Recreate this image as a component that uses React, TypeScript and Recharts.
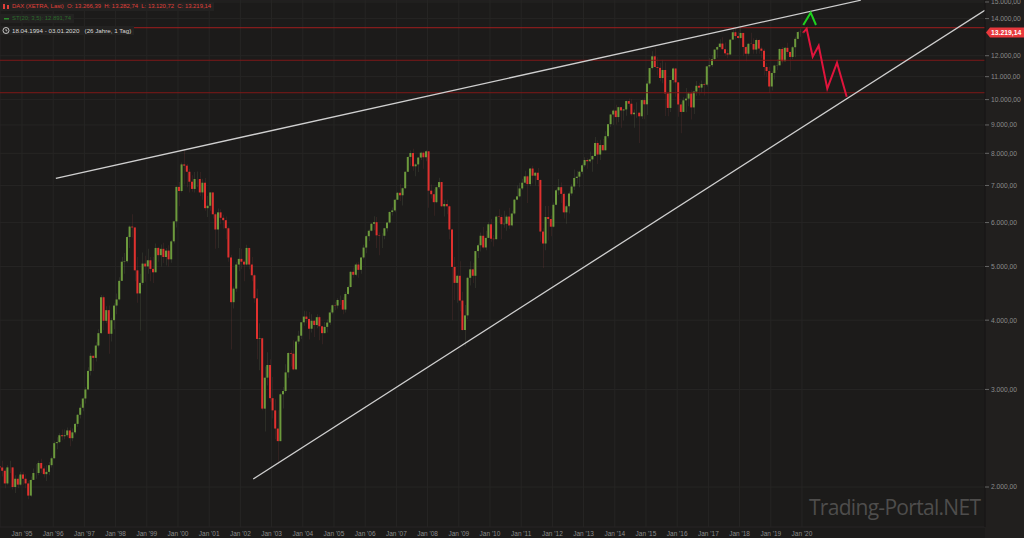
import React from 'react';
import {
  ComposedChart, Bar, Line, Cell, XAxis, YAxis, CartesianGrid, ReferenceLine,
} from 'recharts';

// monthly candles, DAX (XETRA) April 1994 .. 3 Jan 2020
const firstYear = 1994;
const firstMonth = 3; // April
const firstOpen = 2180;

const monthCloses = [
  2170, 2140, 2030, 2170, 2170, 2000, 2070, 2020, 2107,
  2070, 2030, 1930, 2060, 2120, 2120, 2210, 2160, 2110, 2130, 2190, 2254,
  2400, 2410, 2480, 2470, 2480, 2530, 2450, 2510, 2600, 2700, 2780, 2889,
  3000, 3240, 3450, 3420, 3600, 3790, 4400, 3990, 4170, 3780, 4000, 4250,
  4360, 4710, 5100, 5110, 5650, 5900, 5880, 4920, 4470, 4670, 5060, 5000,
  5130, 4950, 4880, 5400, 5240, 5380, 5200, 5340, 5150, 5550, 6030, 6958,
  6840, 7640, 7600, 7410, 7110, 6900, 7190, 7190, 6800, 7080, 6370, 6434,
  6800, 6210, 5830, 6260, 6120, 6060, 5860, 5190, 4310, 4560, 5040, 5160,
  5100, 5040, 5400, 5040, 4820, 4380, 3700, 3710, 2770, 3150, 3320, 2893,
  2750, 2550, 2420, 2940, 2980, 3220, 3490, 3480, 3260, 3660, 3750, 3965,
  4060, 4020, 3860, 3990, 3920, 4050, 3900, 3790, 3890, 3960, 4130, 4256,
  4250, 4350, 4350, 4180, 4460, 4590, 4890, 4830, 5040, 4930, 5190, 5408,
  5670, 5800, 5970, 6010, 5690, 5680, 5680, 5860, 6000, 6270, 6310, 6597,
  6790, 6720, 6920, 7410, 7880, 8010, 7580, 7640, 7860, 8020, 7870, 8067,
  6850, 6750, 6530, 6950, 7100, 6420, 6480, 6420, 5830, 4990, 4670, 4810,
  4340, 3840, 4080, 4770, 4940, 4810, 5330, 5460, 5680, 5410, 5630, 5957,
  5610, 5600, 6150, 6140, 5960, 5970, 6150, 5930, 6230, 6600, 6690, 6914,
  7080, 7270, 7040, 7510, 7290, 7380, 7160, 5780, 5500, 6140, 6090, 5898,
  6460, 6860, 6950, 6760, 6260, 6420, 6770, 6970, 7220, 7260, 7410, 7612,
  7780, 7740, 7800, 7910, 8350, 7960, 8280, 8100, 8590, 9030, 9400, 9552,
  9300, 9690, 9560, 9600, 9940, 9830, 9410, 9470, 9470, 9330, 9980, 9806,
  10690, 11400, 11970, 11450, 11410, 10940, 11310, 10260, 9660, 10850, 11380, 10743,
  9800, 9500, 9970, 10040, 10260, 9680, 10340, 10590, 10510, 10670, 10640, 11481,
  11540, 11830, 12310, 12440, 12620, 12330, 12120, 12060, 12830, 13230, 13020, 12918,
  13190, 12440, 12100, 12610, 12600, 12310, 12810, 12360, 12250, 11450, 11260, 10559,
  11170, 11520, 11530, 12340, 11730, 12400, 12190, 11940, 12430, 12870, 13240, 13249,
  13219,
];

const monthHighs = [
  2250, 2230, 2160, 2190, 2230, 2160, 2100, 2090, 2130,
  2130, 2110, 2050, 2090, 2160, 2200, 2230, 2250, 2180, 2190, 2220, 2270,
  2420, 2460, 2500, 2540, 2540, 2560, 2560, 2550, 2610, 2710, 2820, 2900,
  3030, 3290, 3490, 3450, 3650, 3850, 4440, 4430, 4240, 4250, 4040, 4290,
  4470, 4780, 5200, 5290, 5680, 5930, 6210, 5880, 5200, 4850, 5300, 5230,
  5380, 5200, 5200, 5500, 5420, 5480, 5520, 5400, 5460, 5580, 6040, 6970,
  7100, 7700, 8136, 7650, 7500, 7300, 7400, 7420, 7400, 7200, 7220, 6700,
  6800, 6800, 6250, 6360, 6340, 6200, 6150, 5900, 5250, 4600, 5100, 5400,
  5380, 5130, 5470, 5400, 5200, 4850, 4560, 3950, 3720, 3300, 3500, 3400,
  3160, 2880, 2750, 2960, 3030, 3330, 3500, 3530, 3680, 3680, 3830, 3970,
  4160, 4150, 4140, 4100, 4000, 4100, 4080, 3910, 3970, 4010, 4180, 4270,
  4320, 4380, 4430, 4400, 4500, 4620, 4900, 4980, 5080, 5100, 5200, 5470,
  5690, 5830, 5990, 6160, 6140, 5760, 5740, 5870, 6020, 6290, 6390, 6620,
  6810, 7040, 6940, 7420, 7900, 8090, 8150, 7680, 7880, 8050, 8060, 8100,
  8060, 7030, 6900, 6970, 7230, 7100, 6600, 6600, 6450, 5850, 5200, 4830,
  5110, 4500, 4260, 4790, 5110, 5080, 5330, 5500, 5760, 5890, 5800, 6010,
  6090, 5700, 6180, 6340, 6200, 6300, 6200, 6380, 6300, 6620, 7000, 7080,
  7200, 7440, 7300, 7530, 7600, 7400, 7530, 7180, 5860, 6430, 6430, 6180,
  6520, 6900, 7190, 7090, 6800, 6460, 6830, 7040, 7480, 7430, 7440, 7670,
  7870, 7840, 8060, 7940, 8560, 8440, 8460, 8490, 8770, 9040, 9420, 9600,
  9790, 9710, 9710, 9620, 9960, 10050, 10030, 9600, 9890, 9480, 10000, 10090,
  10810, 11400, 12220, 12390, 11920, 11640, 11800, 11670, 10320, 10850, 11430, 11300,
  10490, 9900, 10100, 10490, 10330, 10400, 10350, 10800, 10720, 10830, 10740, 11490,
  11890, 12030, 12310, 12480, 12850, 12950, 12680, 12320, 12830, 13480, 13530, 13260,
  13600, 13200, 12500, 12640, 13200, 12900, 12890, 12850, 12460, 12350, 11640, 11460,
  11250, 11560, 11820, 12380, 12440, 12440, 12660, 12170, 12490, 12990, 13300, 13430,
  13283,
];

const monthLows = [
  2100, 2090, 1990, 2020, 2120, 1980, 1950, 1990, 2010,
  2020, 1990, 1900, 1920, 2060, 2070, 2100, 2120, 2080, 2050, 2100, 2170,
  2250, 2340, 2400, 2430, 2440, 2460, 2370, 2420, 2490, 2570, 2660, 2740,
  2830, 2990, 3180, 3240, 3370, 3570, 3780, 3840, 3950, 3480, 3660, 3850,
  4100, 4340, 4740, 4850, 5080, 5400, 5640, 4700, 4300, 3830, 4630, 4690,
  4850, 4700, 4670, 4900, 5100, 5000, 5070, 5020, 5000, 5080, 5500, 5880,
  6420, 6800, 7030, 6950, 6800, 6820, 6800, 6950, 6700, 6600, 6300, 6140,
  6300, 6100, 5380, 5400, 5960, 5850, 5600, 5100, 3540, 4200, 4500, 4900,
  4950, 4700, 5020, 4940, 4700, 4300, 3400, 3250, 2750, 2520, 3050, 2850,
  2660, 2440, 2200, 2430, 2770, 2960, 3150, 3300, 3250, 3270, 3620, 3700,
  3910, 3950, 3690, 3800, 3730, 3870, 3680, 3620, 3790, 3800, 3920, 4100,
  4170, 4200, 4260, 4100, 4130, 4440, 4580, 4770, 4800, 4770, 4850, 5150,
  5280, 5560, 5780, 5810, 5400, 5240, 5400, 5600, 5780, 5970, 6180, 6260,
  6600, 6560, 6440, 6900, 7400, 7600, 7440, 7270, 7400, 7780, 7500, 7740,
  6380, 6630, 6170, 6500, 6900, 6400, 6150, 6210, 5600, 4000, 4350, 4300,
  4150, 3830, 3590, 4020, 4620, 4670, 4570, 5180, 5320, 5380, 5350, 5620,
  5540, 5430, 5590, 6000, 5600, 5870, 5800, 5850, 5900, 6200, 6580, 6660,
  6870, 7050, 6510, 6980, 7060, 7000, 6970, 5540, 4970, 5350, 5570, 5670,
  5880, 6450, 6730, 6510, 6100, 5970, 6230, 6710, 6870, 7050, 6950, 7330,
  7560, 7500, 7690, 7410, 7900, 7650, 7780, 8090, 8100, 8520, 8920, 9000,
  9020, 9100, 8900, 9170, 9350, 9710, 9350, 8900, 9270, 8350, 9230, 9220,
  9380, 10620, 11330, 11400, 11050, 10790, 10700, 9340, 9330, 9500, 10700, 10120,
  9310, 8700, 9500, 9490, 9730, 9210, 9420, 10160, 10170, 10300, 10170, 10560,
  11390, 11450, 11790, 11900, 12390, 12300, 12000, 11870, 12060, 12830, 12840, 12860,
  12870, 12000, 11730, 12010, 12600, 12100, 12100, 12100, 11870, 11050, 11010, 10280,
  10390, 10870, 11300, 11590, 11620, 11740, 12080, 11270, 11830, 11920, 12860, 12980,
  13120,
];

const yearTicks = [
  1995, 1996, 1997, 1998, 1999, 2000, 2001, 2002, 2003, 2004, 2005, 2006, 2007,
  2008, 2009, 2010, 2011, 2012, 2013, 2014, 2015, 2016, 2017, 2018, 2019, 2020,
];
// 13.000 is hidden behind the last-price tag
const priceTicks = [2000, 3000, 4000, 5000, 6000, 7000, 8000, 9000, 10000, 11000, 12000, 14000, 15000];

// horizontal resistance / support levels
const levels = [13480, 11775, 10290];
const lastPrice = 13219.14;

// trend channel
const upperTrend = [{ t: 1996.085, v: 7211 }, { t: 2021.885, v: 15110 }];
const lowerTrend = [{ t: 2002.411, v: 2068 }, { t: 2025.86, v: 14491 }];

// projections drawn by hand on the chart
const bullPath = [{ t: 2020.042, v: 13633 }, { t: 2020.279, v: 14348 }, { t: 2020.449, v: 13633 }];
const bearPath = [
  { t: 2020.048, v: 13219 }, { t: 2020.15, v: 13425 }, { t: 2020.343, v: 11950 },
  { t: 2020.535, v: 12510 }, { t: 2020.811, v: 10463 }, { t: 2021.122, v: 11657 },
  { t: 2021.433, v: 10122 },
];

const UP = '#6c9a3c';
const DOWN = '#e0302e';

const candles = monthCloses.map((close, i) => {
  const open = i === 0 ? firstOpen : monthCloses[i - 1];
  const m = firstMonth + i;
  const t = firstYear + Math.floor(m / 12) + ((m % 12) + 0.5) / 12;
  const high = Math.max(monthHighs[i], open, close);
  const low = Math.min(monthLows[i], open, close);
  return {
    t,
    wick: [low, high],
    body: [Math.min(open, close), Math.max(open, close)],
    up: close >= open,
  };
});

const fmt = (n: number) => {
  const [a, b] = n.toFixed(2).split('.');
  return a.replace(/\B(?=(\d{3})+(?!\d))/g, '.') + ',' + b;
};

const X_DOMAIN = [1994.295, 2025.866];
const Y_DOMAIN = [1694, 15125];

const YearTick = (props: any) => {
  const { x, y, payload } = props;
  const label = "Jan '" + String(payload.value).slice(2);
  return (
    <g>
      <text x={x} y={y - 23} textAnchor="middle" fontSize={6.5} fill="#8b8b8b">{label}</text>
      <line x1={x} x2={x} y1={y - 20.5} y2={y - 18.5} stroke="#6a6a6a" />
    </g>
  );
};

const PriceTag = (props: any) => {
  const { viewBox } = props;
  if (!viewBox) return null;
  const left = viewBox.x + viewBox.width;
  const y = viewBox.y;
  const pts = `${left + 1},${y} ${left + 5},${y - 5} ${left + 39},${y - 5} ${left + 39},${y + 5} ${left + 5},${y + 5}`;
  return (
    <g>
      <polygon points={pts} fill="#e8383c" />
      <text x={left + 6} y={y + 2.4} fontSize={6.8} fontWeight="bold" fill="#ffffff">{fmt(lastPrice)}</text>
    </g>
  );
};

const headerRow: React.CSSProperties = {
  display: 'inline-flex',
  alignItems: 'center',
  height: 9,
  background: '#232221',
  paddingRight: 3,
  whiteSpace: 'pre',
};

export default function App() {
  return (
    <div style={{ position: 'absolute', left: 0, top: 0, width: 1024, height: 538, background: '#1c1b1a', overflow: 'hidden', fontFamily: '"Liberation Sans", Arial, sans-serif' }}>
      <div style={{ position: 'absolute', left: 985, top: 0, width: 39, height: 538, background: '#211f1e' }} />
      <ComposedChart
        width={1024}
        height={538}
        data={candles}
        margin={{ top: 0, right: 0, bottom: 0, left: 0 }}
        style={{ position: 'absolute', left: 0, top: 0 }}
      >
        <CartesianGrid xAxisId="main" stroke="#262524" strokeWidth={1} />
        <XAxis
          xAxisId="main"
          dataKey="t"
          type="number"
          domain={X_DOMAIN}
          allowDataOverflow
          ticks={yearTicks}
          tick={<YearTick />}
          tickLine={false}
          axisLine={false}
          tickSize={1}
          tickMargin={1}
          height={11}
          interval={0}
        />
        <XAxis xAxisId="body" dataKey="t" type="number" domain={X_DOMAIN} allowDataOverflow hide />
        <YAxis
          orientation="right"
          scale="log"
          domain={Y_DOMAIN}
          allowDataOverflow
          ticks={priceTicks}
          tickFormatter={fmt}
          tick={{ fontSize: 6.7, fill: '#8b8b8b' }}
          tickSize={4}
          tickMargin={2}
          tickLine={{ stroke: '#666' }}
          axisLine={{ stroke: '#121111' }}
          width={39}
          interval={0}
        />
        {levels.map((v, i) => (
          <ReferenceLine key={v} xAxisId="main" y={v} stroke={i === 0 ? '#a01e1e' : '#7e1818'} strokeWidth={1} />
        ))}
        <Bar xAxisId="main" dataKey="wick" barSize={1} isAnimationActive={false}>
          {candles.map((c, i) => (
            <Cell key={i} fill={c.up ? '#7f8c6a' : '#a04a47'} />
          ))}
        </Bar>
        <Bar xAxisId="body" dataKey="body" barSize={2} isAnimationActive={false}>
          {candles.map((c, i) => (
            <Cell key={i} fill={c.up ? UP : DOWN} />
          ))}
        </Bar>
        <Line xAxisId="main" data={upperTrend} dataKey="v" type="linear" stroke="#cfcfcf" strokeWidth={1.3} dot={false} activeDot={false} isAnimationActive={false} />
        <Line xAxisId="main" data={lowerTrend} dataKey="v" type="linear" stroke="#cfcfcf" strokeWidth={1.3} dot={false} activeDot={false} isAnimationActive={false} />
        <Line xAxisId="main" data={bullPath} dataKey="v" type="linear" stroke="#1ed21e" strokeWidth={2} dot={false} activeDot={false} isAnimationActive={false} />
        <Line xAxisId="main" data={bearPath} dataKey="v" type="linear" stroke="#e0143c" strokeWidth={2} dot={false} activeDot={false} isAnimationActive={false} />
        <ReferenceLine xAxisId="main" y={lastPrice} stroke="none" label={<PriceTag />} />
      </ComposedChart>

      <div style={{ position: 'absolute', left: 0, top: 2, fontSize: 5.9, lineHeight: '9px' }}>
        <div style={{ ...headerRow, color: '#e0403a' }}>
          <svg width={12} height={9}><rect x={3} y={2} width={2} height={5} fill="#e0403a" /><rect x={7} y={3} width={2} height={4} fill="#e0403a" /></svg>
          {'DAX (XETRA, Last)  O: 13.266,39  H: 13.282,74  L: 13.120,72  C: 13.219,14'}
        </div>
        <br />
        <div style={{ ...headerRow, color: '#2c6a2c' }}>
          <svg width={12} height={9}><rect x={4} y={4} width={5} height={1.5} fill="#2c8a2c" /></svg>
          {'ST(20; 3,5): 12.891,74'}
        </div>
        <br />
        <div style={{ ...headerRow, color: '#d6d6d6', fontSize: 6.2 }}>
          <svg width={12} height={9}><circle cx={6} cy={4.5} r={3} stroke="#d6d6d6" fill="none" strokeWidth={0.9} /><path d="M6 3 V4.8 H7.3" stroke="#d6d6d6" fill="none" strokeWidth={0.8} /></svg>
          {'18.04.1994 - 03.01.2020   (26 Jahre, 1 Tag)'}
        </div>
      </div>

      <div style={{ position: 'absolute', left: 809, top: 497, fontFamily: '"Open Sans", sans-serif', fontSize: 21, letterSpacing: -0.7, color: '#4e4d4c', lineHeight: 1, whiteSpace: 'nowrap' }}>
        Trading-Portal.NET
      </div>
    </div>
  );
}
